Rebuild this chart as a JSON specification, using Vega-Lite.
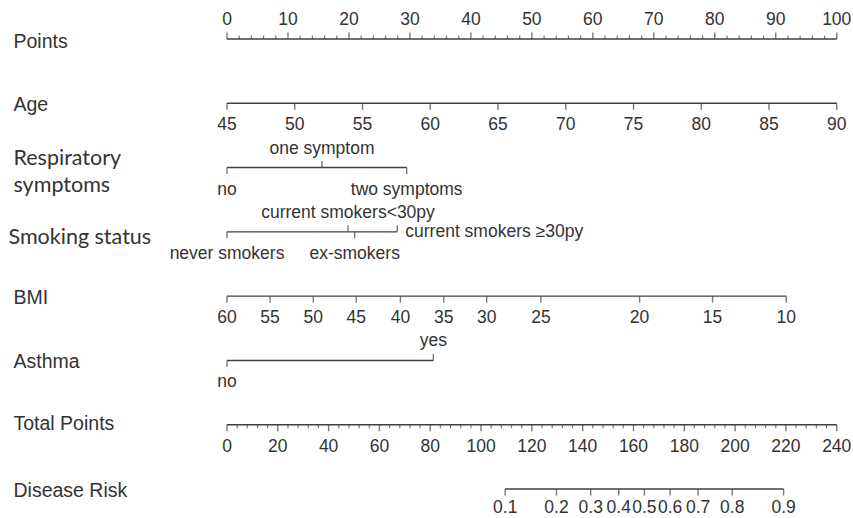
{
  "$schema": "https://vega.github.io/schema/vega-lite/v6.json",
  "width": 626,
  "height": 518,
  "autosize": {"type": "none"},
  "padding": {"left": 227, "top": 0, "right": 0, "bottom": 0},
  "background": "white",
  "config": {"view": {"stroke": null}},
  "data": {
    "values": [
      {"variable": "Points", "pts": 0, "label": "0", "major": true},
      {"variable": "Points", "pts": 10, "label": "10", "major": true},
      {"variable": "Points", "pts": 20, "label": "20", "major": true},
      {"variable": "Points", "pts": 30, "label": "30", "major": true},
      {"variable": "Points", "pts": 40, "label": "40", "major": true},
      {"variable": "Points", "pts": 50, "label": "50", "major": true},
      {"variable": "Points", "pts": 60, "label": "60", "major": true},
      {"variable": "Points", "pts": 70, "label": "70", "major": true},
      {"variable": "Points", "pts": 80, "label": "80", "major": true},
      {"variable": "Points", "pts": 90, "label": "90", "major": true},
      {"variable": "Points", "pts": 100, "label": "100", "major": true},
      {"variable": "Points", "pts": 2, "label": "", "major": false},
      {"variable": "Points", "pts": 4, "label": "", "major": false},
      {"variable": "Points", "pts": 6, "label": "", "major": false},
      {"variable": "Points", "pts": 8, "label": "", "major": false},
      {"variable": "Points", "pts": 12, "label": "", "major": false},
      {"variable": "Points", "pts": 14, "label": "", "major": false},
      {"variable": "Points", "pts": 16, "label": "", "major": false},
      {"variable": "Points", "pts": 18, "label": "", "major": false},
      {"variable": "Points", "pts": 22, "label": "", "major": false},
      {"variable": "Points", "pts": 24, "label": "", "major": false},
      {"variable": "Points", "pts": 26, "label": "", "major": false},
      {"variable": "Points", "pts": 28, "label": "", "major": false},
      {"variable": "Points", "pts": 32, "label": "", "major": false},
      {"variable": "Points", "pts": 34, "label": "", "major": false},
      {"variable": "Points", "pts": 36, "label": "", "major": false},
      {"variable": "Points", "pts": 38, "label": "", "major": false},
      {"variable": "Points", "pts": 42, "label": "", "major": false},
      {"variable": "Points", "pts": 44, "label": "", "major": false},
      {"variable": "Points", "pts": 46, "label": "", "major": false},
      {"variable": "Points", "pts": 48, "label": "", "major": false},
      {"variable": "Points", "pts": 52, "label": "", "major": false},
      {"variable": "Points", "pts": 54, "label": "", "major": false},
      {"variable": "Points", "pts": 56, "label": "", "major": false},
      {"variable": "Points", "pts": 58, "label": "", "major": false},
      {"variable": "Points", "pts": 62, "label": "", "major": false},
      {"variable": "Points", "pts": 64, "label": "", "major": false},
      {"variable": "Points", "pts": 66, "label": "", "major": false},
      {"variable": "Points", "pts": 68, "label": "", "major": false},
      {"variable": "Points", "pts": 72, "label": "", "major": false},
      {"variable": "Points", "pts": 74, "label": "", "major": false},
      {"variable": "Points", "pts": 76, "label": "", "major": false},
      {"variable": "Points", "pts": 78, "label": "", "major": false},
      {"variable": "Points", "pts": 82, "label": "", "major": false},
      {"variable": "Points", "pts": 84, "label": "", "major": false},
      {"variable": "Points", "pts": 86, "label": "", "major": false},
      {"variable": "Points", "pts": 88, "label": "", "major": false},
      {"variable": "Points", "pts": 92, "label": "", "major": false},
      {"variable": "Points", "pts": 94, "label": "", "major": false},
      {"variable": "Points", "pts": 96, "label": "", "major": false},
      {"variable": "Points", "pts": 98, "label": "", "major": false},

      {"variable": "Age", "pts": 0, "label": "45", "major": true},
      {"variable": "Age", "pts": 11.111, "label": "50", "major": true},
      {"variable": "Age", "pts": 22.222, "label": "55", "major": true},
      {"variable": "Age", "pts": 33.333, "label": "60", "major": true},
      {"variable": "Age", "pts": 44.444, "label": "65", "major": true},
      {"variable": "Age", "pts": 55.556, "label": "70", "major": true},
      {"variable": "Age", "pts": 66.667, "label": "75", "major": true},
      {"variable": "Age", "pts": 77.778, "label": "80", "major": true},
      {"variable": "Age", "pts": 88.889, "label": "85", "major": true},
      {"variable": "Age", "pts": 100, "label": "90", "major": true},

      {"variable": "Respiratory symptoms", "pts": 0, "label": "no", "major": true},
      {"variable": "Respiratory symptoms", "pts": 15.58, "label": "one symptom", "major": true},
      {"variable": "Respiratory symptoms", "pts": 29.47, "label": "two symptoms", "major": true},

      {"variable": "Smoking status", "pts": 0, "label": "never smokers", "major": true},
      {"variable": "Smoking status", "pts": 19.85, "label": "current smokers<30py", "major": true},
      {"variable": "Smoking status", "pts": 20.94, "label": "ex-smokers", "major": true},
      {"variable": "Smoking status", "pts": 27.93, "label": "current smokers ≥30py", "major": true},

      {"variable": "BMI", "pts": 0, "label": "60", "major": true},
      {"variable": "BMI", "pts": 7.05, "label": "55", "major": true},
      {"variable": "BMI", "pts": 14.16, "label": "50", "major": true},
      {"variable": "BMI", "pts": 21.2, "label": "45", "major": true},
      {"variable": "BMI", "pts": 28.44, "label": "40", "major": true},
      {"variable": "BMI", "pts": 35.55, "label": "35", "major": true},
      {"variable": "BMI", "pts": 42.59, "label": "30", "major": true},
      {"variable": "BMI", "pts": 51.48, "label": "25", "major": true},
      {"variable": "BMI", "pts": 67.67, "label": "20", "major": true},
      {"variable": "BMI", "pts": 79.63, "label": "15", "major": true},
      {"variable": "BMI", "pts": 91.73, "label": "10", "major": true},

      {"variable": "Asthma", "pts": 0, "label": "no", "major": true},
      {"variable": "Asthma", "pts": 33.84, "label": "yes", "major": true},

      {"variable": "Total Points", "pts": 0, "label": "0", "major": true},
      {"variable": "Total Points", "pts": 8.333, "label": "20", "major": true},
      {"variable": "Total Points", "pts": 16.667, "label": "40", "major": true},
      {"variable": "Total Points", "pts": 25, "label": "60", "major": true},
      {"variable": "Total Points", "pts": 33.333, "label": "80", "major": true},
      {"variable": "Total Points", "pts": 41.667, "label": "100", "major": true},
      {"variable": "Total Points", "pts": 50, "label": "120", "major": true},
      {"variable": "Total Points", "pts": 58.333, "label": "140", "major": true},
      {"variable": "Total Points", "pts": 66.667, "label": "160", "major": true},
      {"variable": "Total Points", "pts": 75, "label": "180", "major": true},
      {"variable": "Total Points", "pts": 83.333, "label": "200", "major": true},
      {"variable": "Total Points", "pts": 91.667, "label": "220", "major": true},
      {"variable": "Total Points", "pts": 100, "label": "240", "major": true},
      {"variable": "Total Points", "pts": 1.667, "label": "", "major": false},
      {"variable": "Total Points", "pts": 3.333, "label": "", "major": false},
      {"variable": "Total Points", "pts": 5, "label": "", "major": false},
      {"variable": "Total Points", "pts": 6.667, "label": "", "major": false},
      {"variable": "Total Points", "pts": 10, "label": "", "major": false},
      {"variable": "Total Points", "pts": 11.667, "label": "", "major": false},
      {"variable": "Total Points", "pts": 13.333, "label": "", "major": false},
      {"variable": "Total Points", "pts": 15, "label": "", "major": false},
      {"variable": "Total Points", "pts": 18.333, "label": "", "major": false},
      {"variable": "Total Points", "pts": 20, "label": "", "major": false},
      {"variable": "Total Points", "pts": 21.667, "label": "", "major": false},
      {"variable": "Total Points", "pts": 23.333, "label": "", "major": false},
      {"variable": "Total Points", "pts": 26.667, "label": "", "major": false},
      {"variable": "Total Points", "pts": 28.333, "label": "", "major": false},
      {"variable": "Total Points", "pts": 30, "label": "", "major": false},
      {"variable": "Total Points", "pts": 31.667, "label": "", "major": false},
      {"variable": "Total Points", "pts": 35, "label": "", "major": false},
      {"variable": "Total Points", "pts": 36.667, "label": "", "major": false},
      {"variable": "Total Points", "pts": 38.333, "label": "", "major": false},
      {"variable": "Total Points", "pts": 40, "label": "", "major": false},
      {"variable": "Total Points", "pts": 43.333, "label": "", "major": false},
      {"variable": "Total Points", "pts": 45, "label": "", "major": false},
      {"variable": "Total Points", "pts": 46.667, "label": "", "major": false},
      {"variable": "Total Points", "pts": 48.333, "label": "", "major": false},
      {"variable": "Total Points", "pts": 51.667, "label": "", "major": false},
      {"variable": "Total Points", "pts": 53.333, "label": "", "major": false},
      {"variable": "Total Points", "pts": 55, "label": "", "major": false},
      {"variable": "Total Points", "pts": 56.667, "label": "", "major": false},
      {"variable": "Total Points", "pts": 60, "label": "", "major": false},
      {"variable": "Total Points", "pts": 61.667, "label": "", "major": false},
      {"variable": "Total Points", "pts": 63.333, "label": "", "major": false},
      {"variable": "Total Points", "pts": 65, "label": "", "major": false},
      {"variable": "Total Points", "pts": 68.333, "label": "", "major": false},
      {"variable": "Total Points", "pts": 70, "label": "", "major": false},
      {"variable": "Total Points", "pts": 71.667, "label": "", "major": false},
      {"variable": "Total Points", "pts": 73.333, "label": "", "major": false},
      {"variable": "Total Points", "pts": 76.667, "label": "", "major": false},
      {"variable": "Total Points", "pts": 78.333, "label": "", "major": false},
      {"variable": "Total Points", "pts": 80, "label": "", "major": false},
      {"variable": "Total Points", "pts": 81.667, "label": "", "major": false},
      {"variable": "Total Points", "pts": 85, "label": "", "major": false},
      {"variable": "Total Points", "pts": 86.667, "label": "", "major": false},
      {"variable": "Total Points", "pts": 88.333, "label": "", "major": false},
      {"variable": "Total Points", "pts": 90, "label": "", "major": false},
      {"variable": "Total Points", "pts": 93.333, "label": "", "major": false},
      {"variable": "Total Points", "pts": 95, "label": "", "major": false},
      {"variable": "Total Points", "pts": 96.667, "label": "", "major": false},
      {"variable": "Total Points", "pts": 98.333, "label": "", "major": false},

      {"variable": "Disease Risk", "pts": 45.63, "label": "0.1", "major": true},
      {"variable": "Disease Risk", "pts": 54.04, "label": "0.2", "major": true},
      {"variable": "Disease Risk", "pts": 59.65, "label": "0.3", "major": true},
      {"variable": "Disease Risk", "pts": 64.25, "label": "0.4", "major": true},
      {"variable": "Disease Risk", "pts": 68.46, "label": "0.5", "major": true},
      {"variable": "Disease Risk", "pts": 72.67, "label": "0.6", "major": true},
      {"variable": "Disease Risk", "pts": 77.26, "label": "0.7", "major": true},
      {"variable": "Disease Risk", "pts": 82.86, "label": "0.8", "major": true},
      {"variable": "Disease Risk", "pts": 91.29, "label": "0.9", "major": true}
    ]
  },
  "encoding": {
    "y": {
      "field": "variable",
      "type": "nominal",
      "scale": {
        "type": "point",
        "domain": ["Points", "Age", "Respiratory symptoms", "Smoking status", "BMI", "Asthma", "Total Points", "Disease Risk"],
        "padding": 0.5287,
        "align": 0.5735
      },
      "axis": {
        "orient": "left",
        "title": null,
        "domain": false,
        "ticks": false,
        "tickSize": 0,
        "grid": false,
        "labelAlign": "left",
        "labelBaseline": "middle",
        "labelLimit": 0,
        "labelColor": "#333333",
        "labelLineHeight": 27,
        "labelFont": {"condition": {"test": "datum.value === 'Smoking status' || datum.value === 'Respiratory symptoms'", "value": "Lato"}, "value": "Liberation Sans"},
        "labelFontSize": {"condition": {"test": "datum.value === 'Smoking status' || datum.value === 'Respiratory symptoms'", "value": 21.5}, "value": 19.5},
        "labelPadding": {"condition": {"test": "datum.value === 'Smoking status'", "value": 219}, "value": 214},
        "labelOffset": {
          "condition": [
            {"test": "datum.value === 'Respiratory symptoms'", "value": -9},
            {"test": "datum.value === 'Smoking status'", "value": 6},
            {"test": "datum.value === 'Points'", "value": 3},
            {"test": "datum.value === 'Total Points'", "value": -1}
          ],
          "value": 1
        },
        "labelExpr": "datum.value === 'Respiratory symptoms' ? ['Respiratory', 'symptoms'] : datum.label"
      }
    }
  },
  "layer": [
    {
      "transform": [
        {"aggregate": [{"op": "min", "field": "pts", "as": "lo"}, {"op": "max", "field": "pts", "as": "hi"}], "groupby": ["variable"]}
      ],
      "mark": {"type": "rule", "color": "#404040", "strokeWidth": 1.4},
      "encoding": {
        "x": {"field": "lo", "type": "quantitative", "scale": {"domain": [0, 102.67], "nice": false, "zero": false}, "axis": null},
        "x2": {"field": "hi"}
      }
    },
    {
      "transform": [
        {"filter": "datum.major && (datum.variable === 'Points' || datum.label === 'one symptom' || datum.label === 'current smokers<30py' || datum.label === 'yes' || datum.label === 'current smokers ≥30py')"}
      ],
      "mark": {"type": "tick", "orient": "vertical", "size": 6.5, "thickness": 1.4, "yOffset": -3.25, "color": "#404040"},
      "encoding": {"x": {"field": "pts", "type": "quantitative", "scale": {"domain": [0, 102.67], "nice": false, "zero": false}, "axis": null}}
    },
    {
      "transform": [{"filter": "!datum.major && datum.variable === 'Points'"}],
      "mark": {"type": "tick", "orient": "vertical", "size": 3.5, "thickness": 1.2, "yOffset": -1.75, "color": "#404040"},
      "encoding": {"x": {"field": "pts", "type": "quantitative", "scale": {"domain": [0, 102.67], "nice": false, "zero": false}, "axis": null}}
    },
    {
      "transform": [
        {"filter": "datum.major && !(datum.variable === 'Points' || datum.label === 'one symptom' || datum.label === 'current smokers<30py' || datum.label === 'yes' || datum.label === 'current smokers ≥30py')"}
      ],
      "mark": {"type": "tick", "orient": "vertical", "size": 6.5, "thickness": 1.4, "yOffset": 3.25, "color": "#404040"},
      "encoding": {"x": {"field": "pts", "type": "quantitative", "scale": {"domain": [0, 102.67], "nice": false, "zero": false}, "axis": null}}
    },
    {
      "transform": [{"filter": "!datum.major && datum.variable === 'Total Points'"}],
      "mark": {"type": "tick", "orient": "vertical", "size": 3.5, "thickness": 1.2, "yOffset": 1.75, "color": "#404040"},
      "encoding": {"x": {"field": "pts", "type": "quantitative", "scale": {"domain": [0, 102.67], "nice": false, "zero": false}, "axis": null}}
    },
    {
      "transform": [
        {"filter": "datum.major && (datum.variable === 'Points' || datum.label === 'one symptom' || datum.label === 'current smokers<30py' || datum.label === 'yes')"}
      ],
      "mark": {"type": "text", "baseline": "middle", "align": "center", "dy": -19, "font": "Liberation Sans", "fontSize": 17.5, "color": "#333333"},
      "encoding": {
        "x": {"field": "pts", "type": "quantitative", "scale": {"domain": [0, 102.67], "nice": false, "zero": false}, "axis": null},
        "text": {"field": "label"}
      }
    },
    {
      "transform": [
        {"filter": "datum.major && datum.variable !== 'Disease Risk' && !(datum.variable === 'Points' || datum.label === 'one symptom' || datum.label === 'current smokers<30py' || datum.label === 'yes' || datum.label === 'current smokers ≥30py')"}
      ],
      "mark": {"type": "text", "baseline": "middle", "align": "center", "dy": 22, "font": "Liberation Sans", "fontSize": 17.5, "color": "#333333"},
      "encoding": {
        "x": {"field": "pts", "type": "quantitative", "scale": {"domain": [0, 102.67], "nice": false, "zero": false}, "axis": null},
        "text": {"field": "label"}
      }
    },
    {
      "transform": [{"filter": "datum.variable === 'Disease Risk'"}],
      "mark": {"type": "text", "baseline": "middle", "align": "center", "dy": 19, "font": "Liberation Sans", "fontSize": 17.5, "color": "#333333"},
      "encoding": {
        "x": {"field": "pts", "type": "quantitative", "scale": {"domain": [0, 102.67], "nice": false, "zero": false}, "axis": null},
        "text": {"field": "label"}
      }
    },
    {
      "transform": [{"filter": "datum.label === 'current smokers ≥30py'"}],
      "mark": {"type": "text", "baseline": "middle", "align": "left", "dx": 8, "font": "Liberation Sans", "fontSize": 17.5, "color": "#333333"},
      "encoding": {
        "x": {"field": "pts", "type": "quantitative", "scale": {"domain": [0, 102.67], "nice": false, "zero": false}, "axis": null},
        "text": {"field": "label"}
      }
    }
  ]
}
